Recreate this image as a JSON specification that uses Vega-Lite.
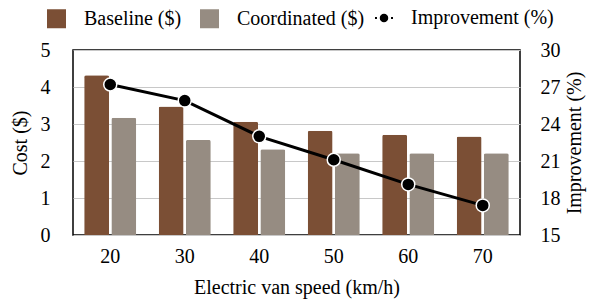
{
  "$schema": "https://vega.github.io/schema/vega-lite/v6.json",
  "width": 447,
  "height": 185,
  "autosize": "none",
  "padding": {"left": 73, "top": 50, "right": 72, "bottom": 66},
  "background": "white",
  "config": {
    "font": "Liberation Serif",
    "view": {"stroke": "black", "strokeWidth": 1.5},
    "axis": {"labelFont": "Liberation Serif, serif", "titleFont": "Liberation Serif, serif", "labelFontSize": 20, "titleFontSize": 20, "labelColor": "black", "titleColor": "black", "titleFontWeight": "normal", "ticks": false, "domain": false, "labelOverlap": false, "labelBound": false, "labelFlush": false},
    "legend": {"labelFont": "Liberation Serif, serif", "labelFontSize": 20, "labelColor": "black"}
  },
  "datasets": {
    "cost": [
      {"speed": "20", "series": "Baseline ($)", "cost": 4.32},
      {"speed": "20", "series": "Coordinated ($)", "cost": 3.17},
      {"speed": "30", "series": "Baseline ($)", "cost": 3.47},
      {"speed": "30", "series": "Coordinated ($)", "cost": 2.57},
      {"speed": "40", "series": "Baseline ($)", "cost": 3.06},
      {"speed": "40", "series": "Coordinated ($)", "cost": 2.32},
      {"speed": "50", "series": "Baseline ($)", "cost": 2.82},
      {"speed": "50", "series": "Coordinated ($)", "cost": 2.21},
      {"speed": "60", "series": "Baseline ($)", "cost": 2.71},
      {"speed": "60", "series": "Coordinated ($)", "cost": 2.21},
      {"speed": "70", "series": "Baseline ($)", "cost": 2.66},
      {"speed": "70", "series": "Coordinated ($)", "cost": 2.21}
    ],
    "imp": [
      {"speed": "20", "improvement": 27.2, "series": "Improvement (%)"},
      {"speed": "30", "improvement": 25.9, "series": "Improvement (%)"},
      {"speed": "40", "improvement": 23.0, "series": "Improvement (%)"},
      {"speed": "50", "improvement": 21.1, "series": "Improvement (%)"},
      {"speed": "60", "improvement": 19.1, "series": "Improvement (%)"},
      {"speed": "70", "improvement": 17.4, "series": "Improvement (%)"}
    ]
  },
  "encoding": {
    "x": {
      "field": "speed", "type": "nominal",
      "scale": {"paddingInner": 0.3, "paddingOuter": 0.15},
      "axis": {"title": "Electric van speed (km/h)", "labelAngle": 0, "labelPadding": 11, "titlePadding": 11, "grid": false}
    }
  },
  "layer": [
    {
      "data": {"name": "cost"},
      "mark": {"type": "bar", "cornerRadiusTopLeft": 2, "cornerRadiusTopRight": 2},
      "encoding": {
        "xOffset": {"field": "series", "type": "nominal", "scale": {"paddingInner": 0.08}},
        "y": {
          "field": "cost", "type": "quantitative",
          "scale": {"domain": [0, 5], "nice": false},
          "axis": {"title": "Cost ($)", "values": [0, 1, 2, 3, 4, 5], "labelPadding": 23, "titlePadding": 10, "grid": true, "gridColor": "#c8c8c8", "gridWidth": 1, "orient": "left"}
        },
        "color": {
          "field": "series", "type": "nominal",
          "scale": {"domain": ["Baseline ($)", "Coordinated ($)"], "range": ["#7b4f35", "#968c82"]},
          "legend": {"title": null, "orient": "none", "legendX": -27, "legendY": -42, "direction": "horizontal", "symbolType": "square", "symbolSize": 361, "symbolOpacity": 1, "labelOffset": 17, "columnPadding": 17}
        }
      }
    },
    {
      "data": {"name": "imp"},
      "mark": {"type": "line", "color": "black", "strokeWidth": 3},
      "encoding": {
        "y": {
          "field": "improvement", "type": "quantitative",
          "scale": {"domain": [15, 30], "nice": false},
          "axis": {"title": "Improvement (%)", "orient": "right", "values": [15, 18, 21, 24, 27, 30], "labelPadding": 20, "titleAngle": 270, "titleX": 54, "titleY": 92.5, "titleAlign": "center", "titleBaseline": "middle", "grid": false}
        },
        "stroke": {
          "field": "series", "type": "nominal",
          "scale": {"range": ["black"]},
          "legend": {"title": null, "orient": "none", "legendX": 301, "legendY": -42, "symbolType": "M-1,0L-0.78,0M-0.36,0A0.36,0.36,0,1,1,0.36,0A0.36,0.36,0,1,1,-0.36,0M0.78,0L1,0", "symbolFillColor": "black", "symbolStrokeWidth": 2, "symbolSize": 324, "labelOffset": 17}
        }
      }
    },
    {
      "data": {"name": "imp"},
      "mark": {"type": "point", "filled": true, "fill": "black", "stroke": "white", "strokeWidth": 1.5, "size": 170, "opacity": 1},
      "encoding": {
        "y": {"field": "improvement", "type": "quantitative", "scale": {"domain": [15, 30], "nice": false}, "axis": null}
      }
    }
  ],
  "resolve": {"scale": {"y": "independent"}}
}
